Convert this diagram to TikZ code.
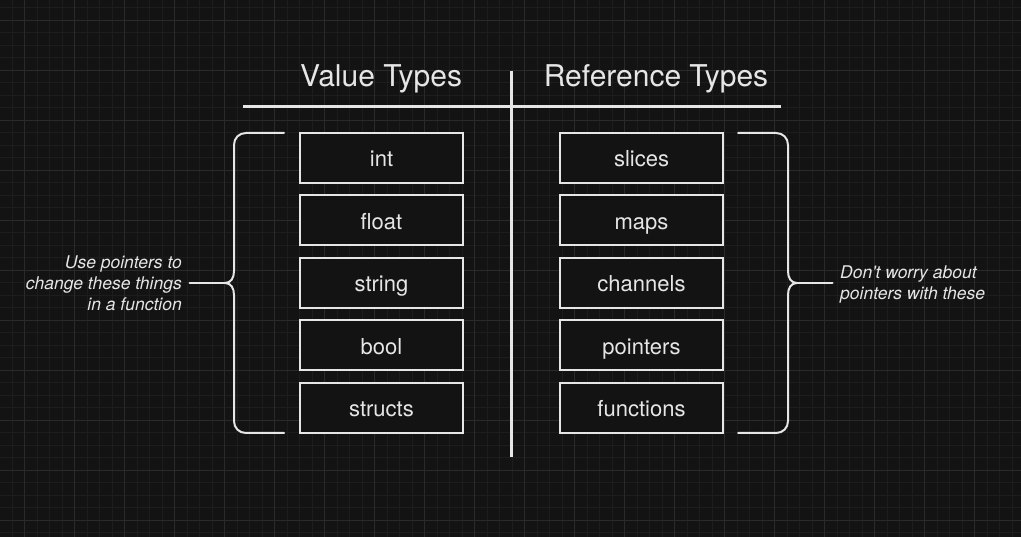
\documentclass[tikz,border=0pt]{standalone}
\usepackage{fontspec}
\setmainfont{TeX Gyre Heros}
\definecolor{bg}{HTML}{131313}
\definecolor{gminor}{HTML}{1D1D1D}
\definecolor{gmajor}{HTML}{2A2A2A}
\definecolor{ink}{HTML}{E6E6E6}
\tikzset{
  minorgrid/.style={draw=gminor, line width=0.8pt},
  majorgrid/.style={draw=gmajor, line width=1pt},
  rule/.style={draw=ink, line width=3pt},
  typebox/.style={draw=ink, fill=bg, line width=2pt, minimum width=163pt, minimum height=50pt,
    text=ink, text height=18pt, text depth=0pt, inner sep=0pt, font=\fontsize{22}{24}\selectfont},
  header/.style={text=ink, font=\fontsize{30}{34}\selectfont, anchor=base, inner sep=0pt},
  note/.style={text=ink, font=\itshape\fontsize{17.5}{21}\selectfont, inner sep=7.5pt},
  brace/.style={draw=ink, line width=2pt, line cap=round},
}
\begin{document}
\begin{tikzpicture}[x=1pt,y=-1pt]
\fill[bg] (0,0) rectangle (1021,537);
\useasboundingbox (0,0) rectangle (1021,537);
\foreach \x in {12,24.5,...,1021} \draw[minorgrid] (\x,0) -- (\x,537);
\foreach \y in {7.5,20,...,537} \draw[minorgrid] (0,\y) -- (1021,\y);
\foreach \x in {24.5,74.5,...,1021} \draw[majorgrid] (\x,0) -- (\x,537);
\foreach \y in {20.5,70.5,...,537} \draw[majorgrid] (0,\y) -- (1021,\y);

% headers
\node[header] (vt) at (381,87) {Value Types};
\node[header] (rt) at (656,87) {Reference Types};
\coordinate (hl) at (243,107);
\coordinate (hr) at (781,107);
\coordinate (vtop) at (511,71);
\coordinate (vbot) at (511,457);
\draw[rule] (hl) -- (hr);
\draw[rule] (vtop) -- (vbot);

% boxes
\node[typebox] (int) at (381.5,158) {int};
\node[typebox] (float) at (381.5,220.5) {float};
\node[typebox] (string) at (381.5,283) {string};
\node[typebox] (bool) at (381.5,345.5) {bool};
\node[typebox] (structs) at (381.5,408) {structs};
\node[typebox] (slices) at (641.5,158) {slices};
\node[typebox] (maps) at (641.5,220.5) {maps};
\node[typebox] (channels) at (641.5,283) {channels};
\node[typebox] (pointers) at (641.5,345.5) {pointers};
\node[typebox] (functions) at (641.5,408) {functions};

% left brace
\draw[brace] (284,133) -- (246,133) .. controls (239,133) and (234,138) .. (234,145)
  -- (234,271) .. controls (234,278) and (231,283) .. (225,283)
  .. controls (231,283) and (234,288) .. (234,295)
  -- (234,421) .. controls (234,428) and (239,433) .. (246,433) -- (284,433);
\coordinate (ltip) at (225,283);
\node[note, anchor=east, align=right] (ltext) at (189.5,283.5) {Use pointers to\\change these things\\in a function};
\draw[brace] (ltip) -- (ltext.east |- ltip);

% right brace
\draw[brace] (738,133) -- (776,133) .. controls (783,133) and (788,138) .. (788,145)
  -- (788,271) .. controls (788,278) and (791,283) .. (797,283)
  .. controls (791,283) and (788,288) .. (788,295)
  -- (788,421) .. controls (788,428) and (783,433) .. (776,433) -- (738,433);
\coordinate (rtip) at (797,283);
\node[note, anchor=west, align=left] (rtext) at (832.5,284) {Don\textquotesingle t worry about\\pointers with these};
\draw[brace] (rtip) -- (rtext.west |- rtip);
\end{tikzpicture}
\end{document}
